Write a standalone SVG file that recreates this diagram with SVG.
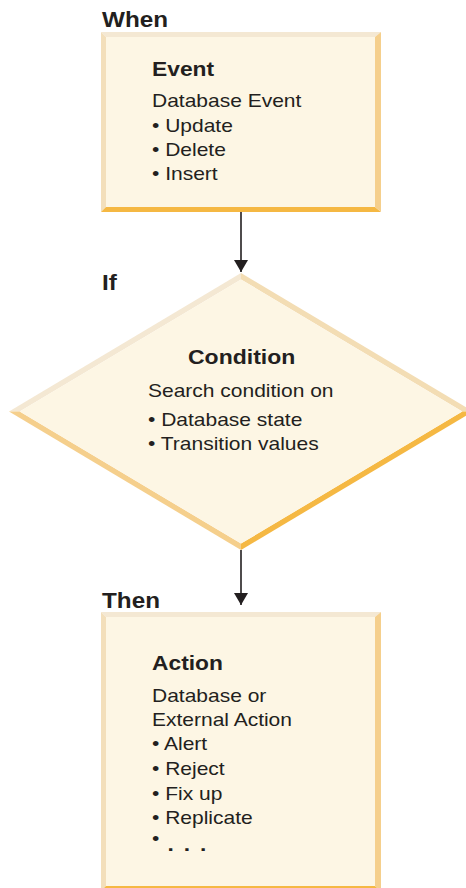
<svg xmlns="http://www.w3.org/2000/svg" width="466" height="888" viewBox="0 0 466 888">
  <defs>
    <marker id="arrowhead" viewBox="0 0 12 14" refX="12" refY="7" markerWidth="12" markerHeight="14" markerUnits="userSpaceOnUse" orient="auto">
      <path d="M0,0 L12,7 L0,14 z" fill="#231f20"/>
    </marker>
  </defs>
  <style>
    text { font-family: "Liberation Sans", Arial, Helvetica, sans-serif; fill: #231f20; }
    .hdr { font-size: 21.5px; font-weight: bold; }
    .ttl { font-size: 20px; font-weight: bold; }
    .txt { font-size: 17.5px; }
    .face { fill: #fdf6e4; }
    .bv-top { fill: #f4e8d3; }
    .bv-left { fill: #f3dfbb; }
    .bv-right { fill: #f5cf8c; }
    .bv-bottom { fill: #f5b843; }
    .bv-tr { fill: #f3ddb4; }
    .conn { stroke: #231f20; stroke-width: 1.6; fill: none; marker-end: url(#arrowhead); }
  </style>

  <rect width="466" height="888" fill="#ffffff"/>

  <!-- section labels -->
  <text class="hdr" transform="translate(102 27) scale(1.13 1)">When</text>
  <text class="hdr" transform="translate(102 290) scale(1.13 1)">If</text>
  <text class="hdr" transform="translate(102 608) scale(1.13 1)">Then</text>

  <!-- Event box -->
  <g id="event">
    <rect class="face" x="106" y="37" width="269" height="170"/>
    <polygon class="bv-top" points="101,32 381,32 375,37 106,37"/>
    <polygon class="bv-left" points="101,32 106,37 106,207 101,212"/>
    <polygon class="bv-bottom" points="101,212 381,212 375,207 106,207"/>
    <polygon class="bv-right" points="381,32 381,212 375,207 375,37"/>
    <text class="ttl" transform="translate(152 76) scale(1.14 1)">Event</text>
    <text class="txt" transform="translate(152 107) scale(1.2 1)">Database Event</text>
    <text class="txt" transform="translate(152 131.5) scale(1.2 1)">• Update</text>
    <text class="txt" transform="translate(152 156) scale(1.2 1)">• Delete</text>
    <text class="txt" transform="translate(152 180) scale(1.2 1)">• Insert</text>
  </g>

  <!-- Condition diamond -->
  <g id="condition">
    <polygon class="bv-top" points="9,411.5 241,273 241,279.4 19.7,411.5"/>
    <polygon class="bv-tr" points="241,273 473,411.5 462.3,411.5 241,279.4"/>
    <polygon class="bv-right" points="9,411.5 19.7,411.5 241,543.6 241,550"/>
    <polygon class="bv-bottom" points="473,411.5 241,550 241,543.6 462.3,411.5"/>
    <polygon class="face" points="241,279.4 462.3,411.5 241,543.6 19.7,411.5"/>
    <text class="ttl" transform="translate(188 364) scale(1.15 1)">Condition</text>
    <text class="txt" transform="translate(148 396.5) scale(1.2 1)">Search condition on</text>
    <text class="txt" transform="translate(148 425.5) scale(1.2 1)">• Database state</text>
    <text class="txt" transform="translate(148 450) scale(1.2 1)">• Transition values</text>
  </g>

  <!-- Action box -->
  <g id="action">
    <rect class="face" x="106" y="617" width="269" height="269"/>
    <polygon class="bv-top" points="101,612 381,612 375,617 106,617"/>
    <polygon class="bv-left" points="101,612 106,617 106,886 101,891"/>
    <polygon class="bv-bottom" points="101,891 381,891 375,886 106,886"/>
    <polygon class="bv-right" points="381,612 381,891 375,886 375,617"/>
    <text class="ttl" transform="translate(152 670) scale(1.14 1)">Action</text>
    <text class="txt" transform="translate(152 702) scale(1.2 1)">Database or</text>
    <text class="txt" transform="translate(152 725.5) scale(1.2 1)">External Action</text>
    <text class="txt" transform="translate(152 750) scale(1.2 1)">• Alert</text>
    <text class="txt" transform="translate(152 775) scale(1.2 1)">• Reject</text>
    <text class="txt" transform="translate(152 799.5) scale(1.2 1)">• Fix up</text>
    <text class="txt" transform="translate(152 824) scale(1.2 1)">• Replicate</text>
    <text class="txt" transform="translate(152 845) scale(1.2 1)">•<tspan font-weight="bold" font-size="19px" letter-spacing="1.5" dy="6"> . . .</tspan></text>
  </g>

  <!-- connectors -->
  <g id="connectors">
    <line class="conn" x1="241" y1="212" x2="241" y2="272"/>
    <line class="conn" x1="241" y1="550" x2="241" y2="605"/>
  </g>
</svg>
